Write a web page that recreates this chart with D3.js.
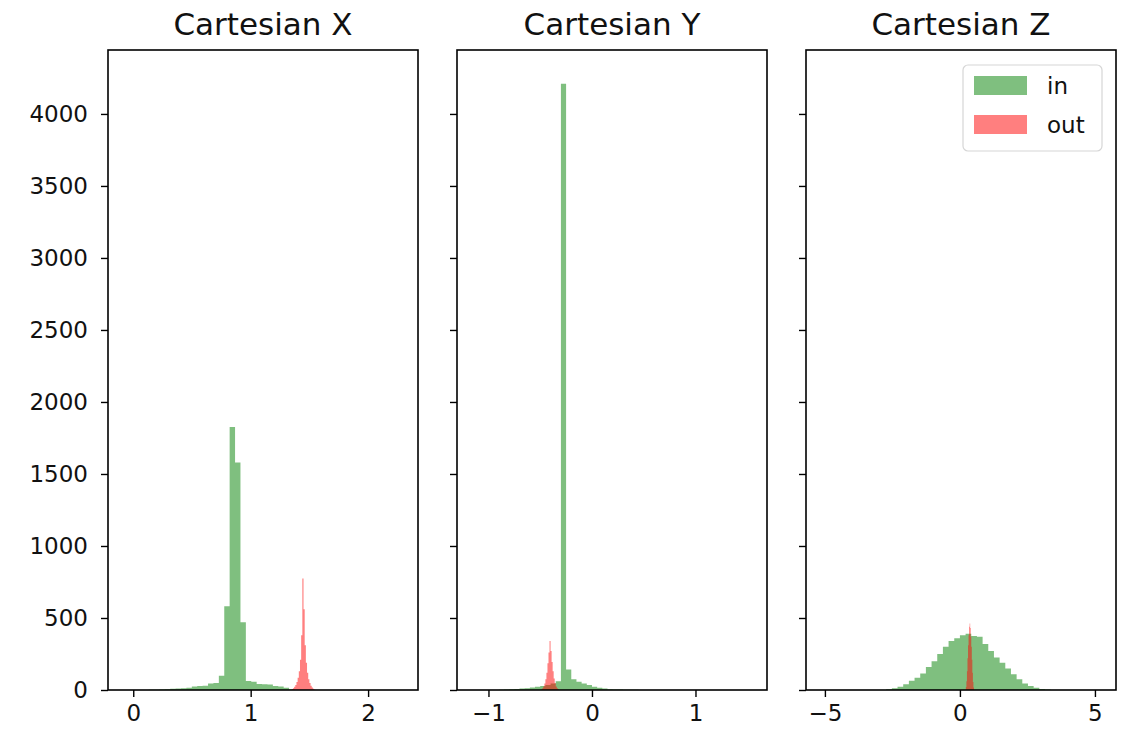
<!DOCTYPE html>
<html>
<head>
<meta charset="utf-8">
<script src="https://cdn.jsdelivr.net/npm/d3@7"></script>
<style>
  html, body { margin: 0; padding: 0; background: #fff; }
  svg { display: block; font-family: "DejaVu Sans", sans-serif; }
</style>
</head>
<body>
<svg id="chart" width="1125" height="733"></svg>
<script>
// ---- data ----
const panelTitles = ["Cartesian X", "Cartesian Y", "Cartesian Z"];
const seriesNames = ["in", "out"];
const yTicks = [0, 500, 1000, 1500, 2000, 2500, 3000, 3500, 4000];
const xTicksX = [0, 1, 2];
const xTicksY = [-1, 0, 1];
const xTicksZ = [-5, 0, 5];
const xDomainX = [-0.215, 2.425];
const xDomainY = [-1.304, 1.691];
const xDomainZ = [-5.70, 5.78];

// Cartesian X
const xInStart = 0.131, xInWidth = 0.046;
const xInCounts = [1, 2, 4, 6, 8, 10, 12, 15, 25, 28, 30, 45, 48, 99, 581, 1827, 1580, 470, 62, 58, 42, 40, 38, 28, 25, 15, 5];
const xOutStart = 1.35, xOutWidth = 0.01;
const xOutCounts = [5, 12, 22, 35, 55, 85, 130, 210, 380, 775, 560, 310, 190, 120, 75, 48, 30, 18, 9, 4];

// Cartesian Y
const yInStart = -0.90, yInWidth = 0.05;
const yInCounts = [2, 3, 5, 7, 10, 12, 18, 22, 28, 35, 45, 60, 4210, 143, 74, 57, 46, 35, 23, 16, 10, 6, 4, 3, 2, 1, 1];
const yOutStart = -0.49, yOutWidth = 0.01;
const yOutCounts = [5, 12, 25, 45, 75, 120, 185, 260, 340, 270, 195, 130, 80, 48, 25, 12, 5];

// Cartesian Z
const zInStart = -2.73, zInWidth = 0.21;
const zInCounts = [5, 12, 22, 40, 65, 85, 115, 160, 200, 250, 300, 340, 360, 380, 390, 375, 370, 320, 270, 225, 190, 150, 110, 75, 45, 28, 15, 7, 3];
const zOutStart = 0.22, zOutWidth = 0.02;
const zOutCounts = [20, 60, 130, 220, 310, 380, 440, 462, 430, 370, 300, 210, 120, 55, 18];

// ---- layout ----
const colors = { in: "#008000", out: "#ff0000" };
const panelW = 310, panelGap = 39, left0 = 108, plotTop = 50, plotBottom = 690;
const svg = d3.select("#chart");

const y = d3.scaleLinear().domain([0, 4444]).range([plotBottom, plotTop]);

function bins(start, width, counts) {
  return counts.map((c, i) => ({ x0: start + i * width, x1: start + (i + 1) * width, n: c }));
}

const panels = [
  { title: panelTitles[0], domain: xDomainX, ticks: xTicksX,
    series: [bins(xInStart, xInWidth, xInCounts), bins(xOutStart, xOutWidth, xOutCounts)] },
  { title: panelTitles[1], domain: xDomainY, ticks: xTicksY,
    series: [bins(yInStart, yInWidth, yInCounts), bins(yOutStart, yOutWidth, yOutCounts)] },
  { title: panelTitles[2], domain: xDomainZ, ticks: xTicksZ,
    series: [bins(zInStart, zInWidth, zInCounts), bins(zOutStart, zOutWidth, zOutCounts)] }
];

const minus = s => String(s).replace("-", "\u2212");

panels.forEach((p, i) => {
  const x0 = left0 + i * (panelW + panelGap);
  const x = d3.scaleLinear().domain(p.domain).range([x0, x0 + panelW]);
  const g = svg.append("g");

  // bars: each histogram drawn as one stepped area (bins from the data via scales)
  p.series.forEach((data, si) => {
    const key = seriesNames[si];
    const pts = data.map(d => ({ x: d.x0, n: d.n }));
    pts.push({ x: data[data.length - 1].x1, n: data[data.length - 1].n });
    const area = d3.area()
      .curve(d3.curveStepAfter)
      .x(d => x(d.x))
      .y0(y(0))
      .y1(d => y(d.n));
    g.append("path")
      .datum(pts)
      .attr("d", area)
      .attr("fill", colors[key])
      .attr("fill-opacity", 0.5);
  });

  // x axis
  const xa = g.append("g").attr("transform", `translate(0,${plotBottom})`)
    .call(d3.axisBottom(x).tickValues(p.ticks).tickSize(7).tickPadding(6).tickFormat(minus));
  xa.select(".domain").remove();
  xa.selectAll(".tick line").attr("stroke", "#000").attr("stroke-width", 1.4);
  xa.selectAll(".tick text").attr("font-size", 23).attr("fill", "#111")
    .attr("font-family", "DejaVu Sans").attr("dy", "0.8em");

  // y axis
  const ya = g.append("g").attr("transform", `translate(${x0},0)`)
    .call(d3.axisLeft(y).tickValues(yTicks).tickSize(7).tickPadding(13)
      .tickFormat(i === 0 ? d3.format("d") : () => ""));
  ya.select(".domain").remove();
  ya.selectAll(".tick line").attr("stroke", "#000").attr("stroke-width", 1.4);
  ya.selectAll(".tick text").attr("font-size", 23).attr("fill", "#111")
    .attr("font-family", "DejaVu Sans");

  // frame
  g.append("rect").attr("x", x0).attr("y", plotTop).attr("width", panelW).attr("height", plotBottom - plotTop)
    .attr("fill", "none").attr("stroke", "#000").attr("stroke-width", 1.6);

  // title
  g.append("text").attr("x", x0 + panelW / 2).attr("y", 35)
    .attr("text-anchor", "middle").attr("font-size", 31).attr("fill", "#111")
    .text(p.title);
});

// legend (in last panel)
const lg = svg.append("g");
lg.append("rect").attr("x", 963).attr("y", 65).attr("width", 139).attr("height", 86)
  .attr("rx", 5).attr("fill", "#fff").attr("fill-opacity", 0.8)
  .attr("stroke", "#d6d6d6").attr("stroke-width", 1.2);
seriesNames.forEach((name, k) => {
  const yy = 76 + k * 39;
  lg.append("rect").attr("x", 974).attr("y", yy).attr("width", 53).attr("height", 19)
    .attr("fill", colors[name]).attr("fill-opacity", 0.5);
  lg.append("text").attr("x", 1047).attr("y", yy + 18).attr("font-size", 23).attr("fill", "#111")
    .text(name);
});
</script>
</body>
</html>
